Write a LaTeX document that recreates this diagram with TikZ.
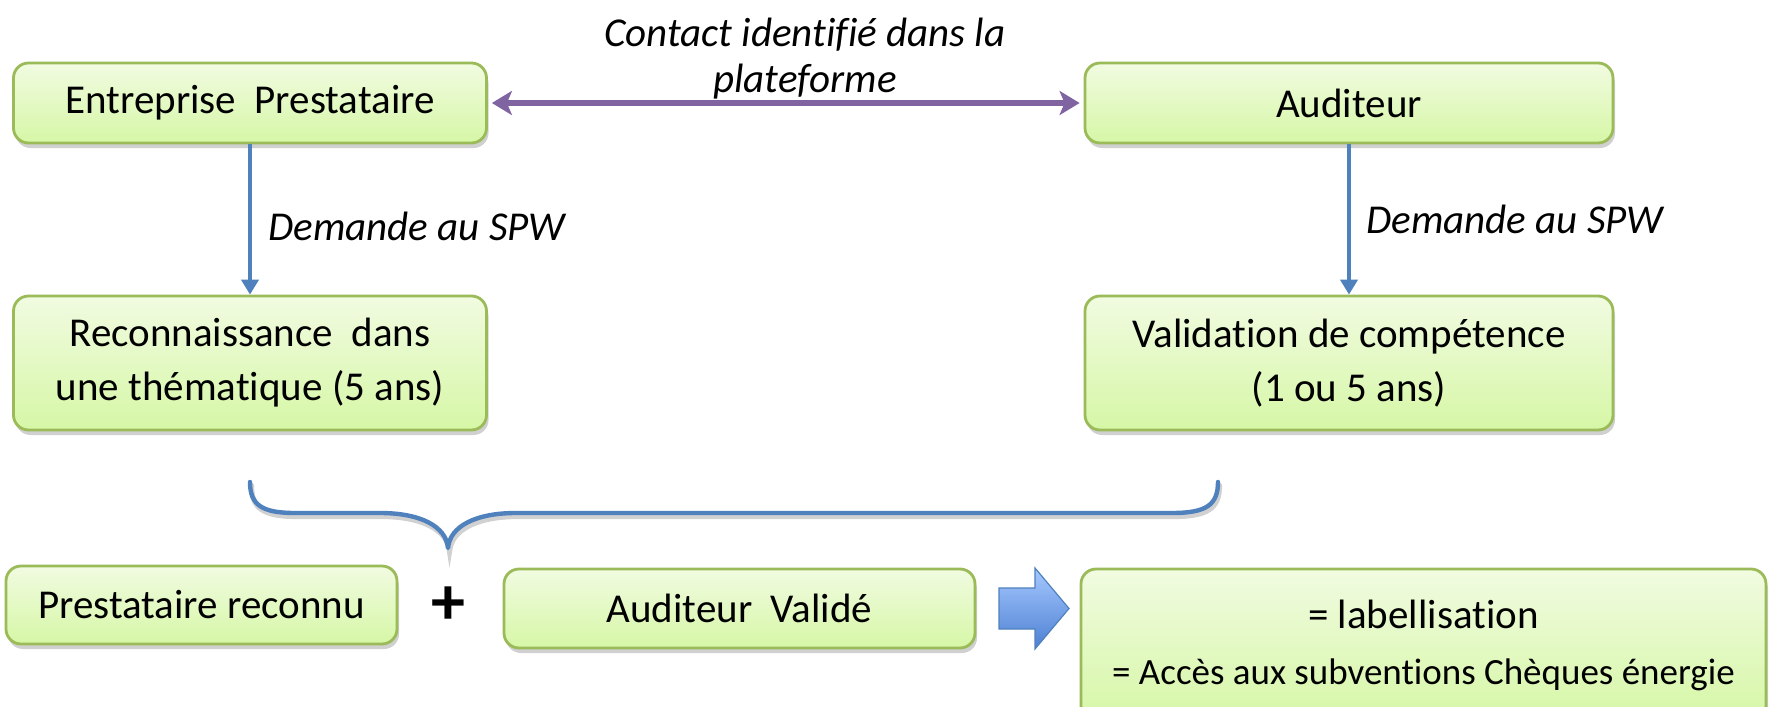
\documentclass[tikz,border=0pt]{standalone}
\usepackage{fontspec}
\setmainfont{Carlito}[Ligatures=NoCommon]
\usetikzlibrary{arrows.meta,shadows}
\definecolor{boxtop}{HTML}{F1FBE1}
\definecolor{boxbot}{HTML}{D6F7A6}
\definecolor{boxline}{HTML}{9BBB59}
\definecolor{oblue}{HTML}{4F81BD}
\definecolor{opurple}{HTML}{8064A2}
\definecolor{arrtop}{HTML}{A6C8FF}
\definecolor{arrbot}{HTML}{4D80D2}
\tikzset{
  gbox/.style={draw=boxline, line width=1.4pt, rounded corners=7.5pt,
    top color=boxtop, bottom color=boxbot, align=center, inner sep=2pt,
    font=\fontsize{20.5}{27}\selectfont,
    drop shadow={opacity=0.3, shadow xshift=1pt, shadow yshift=-2.5pt, fill=black!60}},
  lbl/.style={font=\fontsize{20.5}{22.8}\selectfont\itshape, inner sep=0pt},
  bluearr/.style={draw=oblue, line width=2.3pt, -{Triangle[length=7.5pt,width=8.5pt]}},
  purplearr/.style={draw=opurple, line width=2.8pt,
    {Stealth[length=10pt,width=12pt,inset=2.5pt]}-{Stealth[length=10pt,width=12pt,inset=2.5pt]},
    shorten <=2pt, shorten >=2pt},
  bracestyle/.style={draw=oblue, line width=2.2pt, line cap=round, line join=round},
  shadowline/.style={draw=black, opacity=0.18, line width=2.6pt, line cap=round},
  blockarr/.style={draw=oblue, line width=0.6pt, top color=arrtop, bottom color=arrbot}
}
\begin{document}
\begin{tikzpicture}[x=0.5pt, y=-0.5pt]
\useasboundingbox (0,0) rectangle (1769,707);
\clip (0,0) rectangle (1769,707);
\fill[white] (0,0) rectangle (1769,707);

% boxes
\node[gbox, minimum width=236.5pt, minimum height=40pt] (ent) at (250,103) {Entreprise\ \ Prestataire};
\node[gbox, minimum width=264pt, minimum height=40pt] (aud) at (1349,103) {Auditeur};
\node[gbox, minimum width=236.5pt, minimum height=67pt] (rec) at (250,363) {Reconnaissance\ \ dans\\une thématique (5 ans)};
\node[gbox, minimum width=264pt, minimum height=67pt] (val) at (1349,363) {Validation de compétence\\(1 ou 5 ans)};
\node[gbox, minimum width=195.5pt, minimum height=39pt] (pre) at (201.5,605) {Prestataire reconnu};
\node[gbox, minimum width=235.5pt, minimum height=39.5pt] (auv) at (739.5,608.5) {Auditeur\ \ Validé};
\node[gbox, minimum width=342.5pt, minimum height=76pt] (lab) at (1423.5,645)
  {= labellisation\\[1pt]{\fontsize{18.5}{24}\selectfont = Accès aux subventions Chèques énergie}};

% plus sign
\node[inner sep=0pt, font=\fontsize{34}{34}\selectfont\bfseries] (plus) at (448,606) {+};

% connectors
\draw[purplearr] (ent.east) -- (aud.west);
\draw[bluearr] (ent.south) -- (rec.north);
\draw[bluearr] (aud.south) -- (val.north);

% labels
\node[lbl, align=center] (ct) at (805,58.3) {Contact identifié dans la\\plateforme};
\node[lbl, anchor=base west] (d1) at (268,240) {Demande au SPW};
\node[lbl, anchor=base west] (d2) at (1366,233) {Demande au SPW};

% brace
\draw[shadowline, shift={(1.5,3.5)}] (250,482) .. controls (250,505) and (262,513) .. (295,513) -- (380,513) .. controls (420,513) and (446,526) .. (448,548) .. controls (450,526) and (476,513) .. (516,513) -- (1172,513) .. controls (1206,513) and (1218,505) .. (1218,482);
\draw[bracestyle] (250,482) .. controls (250,505) and (262,513) .. (295,513) -- (380,513) .. controls (420,513) and (446,526) .. (448,548) .. controls (450,526) and (476,513) .. (516,513) -- (1172,513) .. controls (1206,513) and (1218,505) .. (1218,482);

% block arrow
\draw[blockarr] (999,588) -- (1035,588) -- (1035,568) -- (1069,608.5) -- (1035,649) -- (1035,629) -- (999,629) -- cycle;
\end{tikzpicture}
\end{document}
